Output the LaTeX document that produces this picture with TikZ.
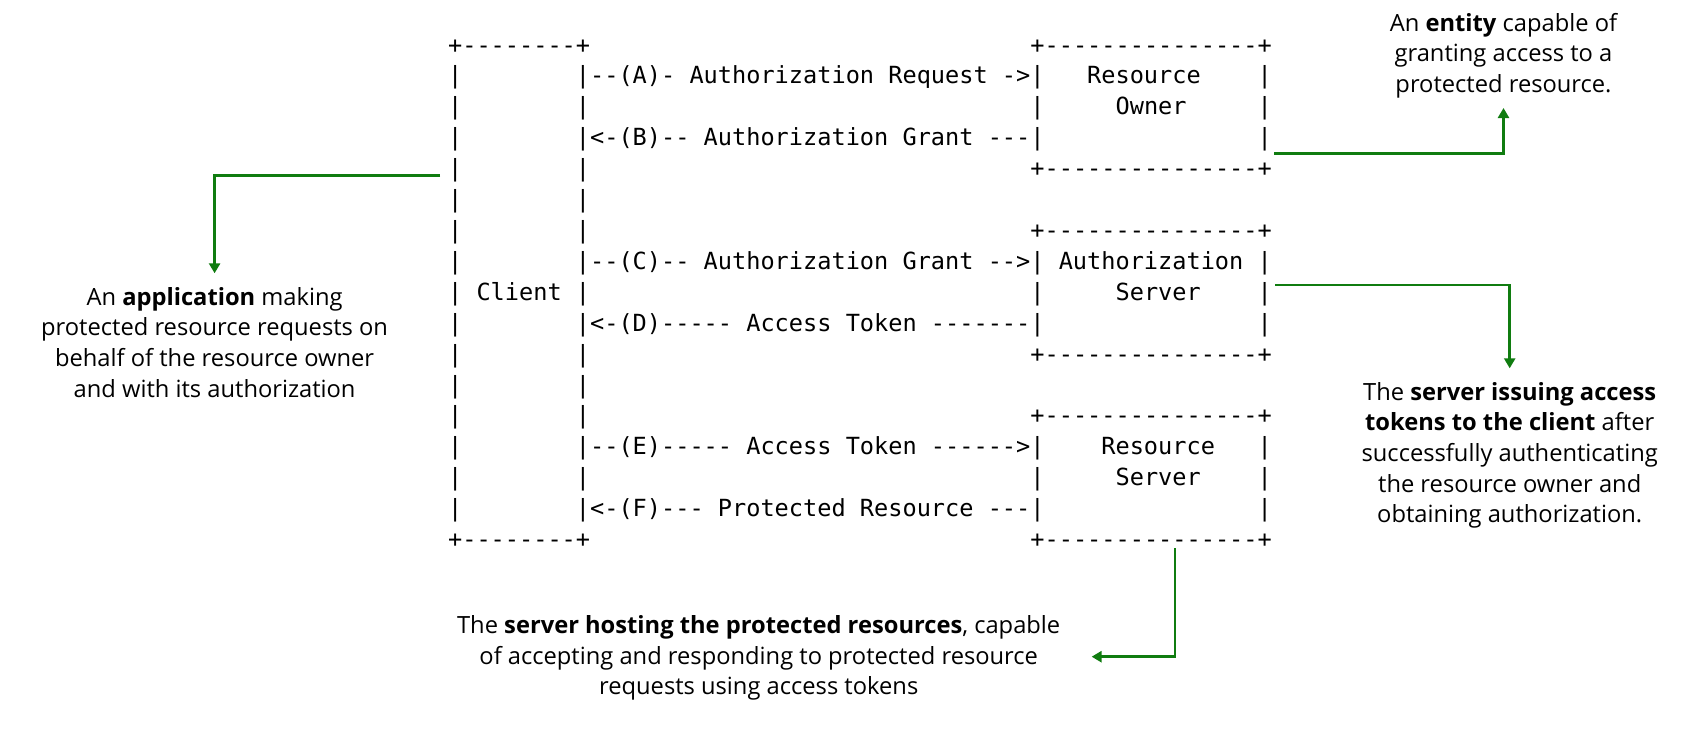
\documentclass[tikz,border=0pt]{standalone}
\usepackage{fontspec}
\setmainfont{Open Sans}
\setmonofont{DejaVu Sans Mono}
\usetikzlibrary{arrows.meta}
\definecolor{callgreen}{RGB}{16,124,16}
\newcommand\sps[1]{\hspace*{#1\fontdimen2\font}}
\begin{document}
\begin{tikzpicture}[x=1pt,y=-1pt,
  asciiline/.style={anchor=base west, inner sep=0pt, font=\ttfamily\fontsize{23.59}{30.9}\selectfont},
  note/.style={align=center, inner sep=0pt, anchor=north, font=\fontsize{23.7}{30.6}\selectfont},
  callout/.style={draw=callgreen, line width=2.6pt, -{Triangle[width=11pt,length=10pt]}}]
\fill[white] (0,0) rectangle (1694,746);
\useasboundingbox (0,0) rectangle (1694,746);
% ASCII art, one node per line
\node[asciiline] (l0)  at (447.9, 53.1) {+--------+\sps{31}+---------------+};
\node[asciiline] (l1)  at (447.9, 84.0) {|\sps{8}|--(A)-~Authorization~Request~->|\sps{3}Resource\sps{4}|};
\node[asciiline] (l2)  at (447.9,114.9) {|\sps{8}|\sps{31}|\sps{5}Owner\sps{5}|};
\node[asciiline] (l3)  at (447.9,145.8) {|\sps{8}|<-(B)--~Authorization~Grant~---|\sps{15}|};
\node[asciiline] (l4)  at (447.9,176.7) {|\sps{8}|\sps{31}+---------------+};
\node[asciiline] (l5)  at (447.9,207.6) {|\sps{8}|};
\node[asciiline] (l6)  at (447.9,238.5) {|\sps{8}|\sps{31}+---------------+};
\node[asciiline] (l7)  at (447.9,269.4) {|\sps{8}|--(C)--~Authorization~Grant~-->|~Authorization~|};
\node[asciiline] (l8)  at (447.9,300.3) {|~Client~|\sps{31}|\sps{5}Server\sps{4}|};
\node[asciiline] (l9)  at (447.9,331.2) {|\sps{8}|<-(D)-----~Access~Token~-------|\sps{15}|};
\node[asciiline] (l10) at (447.9,362.1) {|\sps{8}|\sps{31}+---------------+};
\node[asciiline] (l11) at (447.9,393.0) {|\sps{8}|};
\node[asciiline] (l12) at (447.9,423.9) {|\sps{8}|\sps{31}+---------------+};
\node[asciiline] (l13) at (447.9,454.8) {|\sps{8}|--(E)-----~Access~Token~------>|\sps{4}Resource\sps{3}|};
\node[asciiline] (l14) at (447.9,485.7) {|\sps{8}|\sps{31}|\sps{5}Server\sps{4}|};
\node[asciiline] (l15) at (447.9,516.6) {|\sps{8}|<-(F)---~Protected~Resource~---|\sps{15}|};
\node[asciiline] (l16) at (447.9,547.5) {+--------+\sps{31}+---------------+};
% annotations
\node[note] (appnote) at (214.6,287.0) {An \textbf{application} making\\protected resource requests on\\behalf of the resource owner\\and with its authorization};
\node[note] (entitynote) at (1503.5,13.0) {An \textbf{entity} capable of\\granting access to a\\protected resource.};
\node[note] (asnote) at (1509.7,382.0) {The \textbf{server issuing access}\\\textbf{tokens to the client} after\\successfully authenticating\\the resource owner and\\obtaining authorization.};
\node[note] (rsnote) at (758.7,615.3) {The \textbf{server hosting the protected resources}, capable\\of accepting and responding to protected resource\\requests using access tokens};
% callout connectors
\coordinate (clientOut) at (440,175.5);
\coordinate (ownerOut) at (1274,153.3);
\coordinate (authOut) at (1275.4,285);
\coordinate (resOut) at (1175,548.3);
\coordinate (resTip) at (1091.6,656.7);
\draw[callout] (clientOut) -| ([yshift=13.7pt]appnote.north);
\draw[callout] (ownerOut) -| ([yshift=-9.6pt]entitynote.south);
\draw[callout] (authOut) -| ([yshift=13.7pt]asnote.north);
\draw[callout] (resOut) |- (resTip);
\end{tikzpicture}
\end{document}
